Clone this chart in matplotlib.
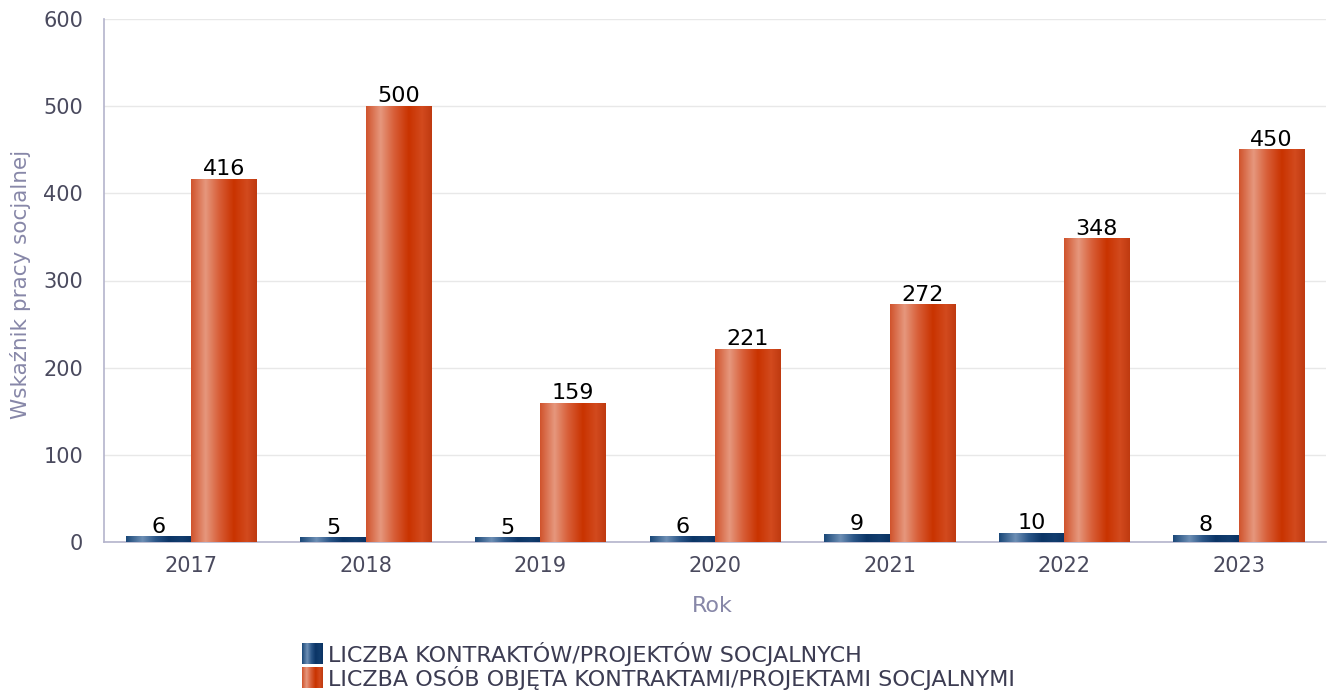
import numpy as np
import matplotlib.pyplot as plt
from matplotlib.colors import LinearSegmentedColormap

years = ["2017", "2018", "2019", "2020", "2021", "2022", "2023"]
kontrakty = [6, 5, 5, 6, 9, 10, 8]
osoby = [416, 500, 159, 221, 272, 348, 450]
series_names = ["LICZBA KONTRAKTÓW/PROJEKTÓW SOCJALNYCH",
                "LICZBA OSÓB OBJĘTA KONTRAKTAMI/PROJEKTAMI SOCJALNYMI"]

# cylinder-like gradients across the bar width
blue_cmap = LinearSegmentedColormap.from_list("blue", [
    (0.0, "#1a4878"), (0.25, "#6d8fb5"), (0.45, "#2a5688"),
    (0.65, "#0b3566"), (0.85, "#123d6e"), (1.0, "#0a3363")])
orange_cmap = LinearSegmentedColormap.from_list("orange", [
    (0.0, "#d0532c"), (0.22, "#e6977d"), (0.42, "#d8603a"),
    (0.65, "#c93300"), (0.85, "#d24a1e"), (1.0, "#bf3a10")])

tick_col = "#4a4a5e"
label_col = "#8787a8"
spine_col = "#b4b4cc"

fig = plt.figure(figsize=(13.27, 6.92), dpi=100)
ax = fig.add_axes([104 / 1327, 1 - 542 / 692, 1222 / 1327, 523 / 692])

x = np.arange(len(years))
w = 0.375
grad = np.linspace(0, 1, 256).reshape(1, -1)


def gradient_bars(xs, vals, cmap):
    bars = ax.bar(xs, vals, width=w, color="none", edgecolor="none", zorder=3)
    for b in bars:
        x0, y0 = b.get_x(), b.get_y()
        ax.imshow(grad, cmap=cmap, aspect="auto", zorder=3,
                  extent=(x0, x0 + b.get_width(), y0, y0 + b.get_height()))
    return bars


b1 = gradient_bars(x - w / 2, kontrakty, blue_cmap)
b2 = gradient_bars(x + w / 2, osoby, orange_cmap)
ax.bar_label(b1, labels=[str(v) for v in kontrakty], fontsize=16, color="black", padding=0)
ax.bar_label(b2, labels=[str(v) for v in osoby], fontsize=16, color="black", padding=0)

ax.set_xlim(-0.5, len(years) - 0.5)
ax.set_ylim(0, 600)
ax.set_yticks(range(0, 601, 100))
ax.set_xticks(x)
ax.set_xticklabels(years)
ax.tick_params(axis="both", length=0, labelsize=15, colors=tick_col)
ax.tick_params(axis="x", pad=10)
ax.tick_params(axis="y", pad=15)
ax.grid(axis="y", color="#e8e8e8", linewidth=1, zorder=0)
ax.set_axisbelow(True)
for s in ["top", "right"]:
    ax.spines[s].set_visible(False)
for s in ["left", "bottom"]:
    ax.spines[s].set_color(spine_col)
    ax.spines[s].set_linewidth(1.2)

ax.set_ylabel("Wskaźnik pracy socjalnej", fontsize=15.5, color=label_col)
ax.yaxis.set_label_coords((21 - 104) / 1222, (542 - 284) / 523)
ax.set_xlabel("Rok", fontsize=16, color=label_col)
ax.xaxis.set_label_coords((712 - 104) / 1222, -(606 - 542) / 523)
ax.xaxis.label.set_va("center")
ax.yaxis.label.set_va("center")

# legend with gradient swatches
for i, (name, cmap) in enumerate(zip(series_names, [blue_cmap, orange_cmap])):
    top = 643 + i * 24
    sw = fig.add_axes([302 / 1327, 1 - (top + 21) / 692, 21 / 1327, 21 / 692])
    sw.imshow(grad, cmap=cmap, aspect="auto")
    sw.axis("off")
    fig.text(328 / 1327, 1 - (top + 11) / 692, name, fontsize=16, color="#3c3c52",
             va="center", ha="left")

fig.savefig("out.png", dpi=100)
